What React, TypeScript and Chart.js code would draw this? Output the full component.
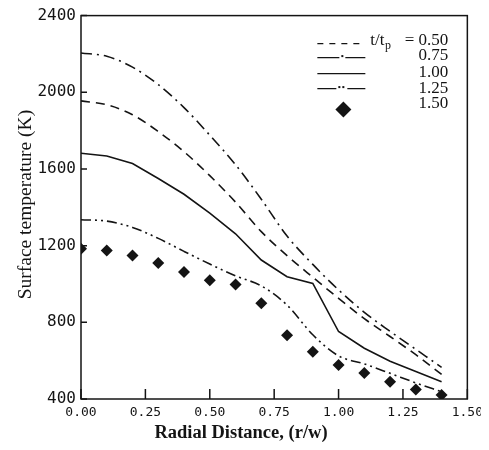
import React, { useEffect, useRef } from "react";
import { Chart, registerables } from "chart.js";

Chart.register(...registerables);

// Radial distance (r/w)
const R = [0, 0.1, 0.2, 0.3, 0.4, 0.5, 0.6, 0.7, 0.8, 0.9, 1.0, 1.1, 1.2, 1.3, 1.4];
// Surface temperature (K) for t/tp values
const T050 = [1955, 1935, 1883, 1795, 1690, 1565, 1427, 1273, 1148, 1035, 925, 819, 726, 631, 528];
const T075 = [2205, 2188, 2131, 2040, 1920, 1776, 1622, 1442, 1250, 1102, 969, 852, 753, 659, 565];
const T100 = [1682, 1668, 1628, 1550, 1468, 1370, 1262, 1125, 1038, 1003, 752, 665, 597, 543, 490];
const T125 = [1335, 1328, 1295, 1238, 1170, 1104, 1042, 990, 890, 735, 625, 583, 534, 484, 438];
const T150 = [1184, 1174, 1148, 1110, 1063, 1020, 997, 900, 733, 647, 577, 535, 490, 450, 421];

const LEGEND_VALUES = ["0.50", "0.75", "1.00", "1.25", "1.50"];
const X_TICKS = [0, 0.25, 0.5, 0.75, 1.0, 1.25, 1.5];
const Y_TICKS = [400, 800, 1200, 1600, 2000, 2400];
const X_TITLE = "Radial Distance, (r/w)";
const Y_TITLE = "Surface temperature (K)";

const INK = "#141414";
const DASH = [9, 6];
const DASH_DOT = [11, 5, 2, 5];
const DASH_DOT_DOT = [10, 4, 2, 4, 2, 4];

const pts = (vals: number[]) => R.map((x, i) => ({ x, y: vals[i] }));

const decorPlugin = {
  id: "decor",
  afterDraw(chart: any) {
    const { ctx, chartArea, scales } = chart;
    const { left, right, top, bottom } = chartArea;
    const xs = scales.x;
    const ys = scales.y;
    ctx.save();
    ctx.strokeStyle = INK;
    ctx.fillStyle = INK;
    ctx.lineWidth = 1.5;
    ctx.setLineDash([]);
    // frame
    ctx.strokeRect(left, top, right - left, bottom - top);
    // inward ticks
    ctx.beginPath();
    Y_TICKS.forEach((v) => {
      const py = ys.getPixelForValue(v);
      ctx.moveTo(left, py);
      ctx.lineTo(left + 6, py);
    });
    X_TICKS.forEach((v) => {
      const px = xs.getPixelForValue(v);
      ctx.moveTo(px, bottom);
      ctx.lineTo(px, bottom - 10);
    });
    ctx.stroke();

    // axis titles
    ctx.font = "bold 18.5px 'Liberation Serif', serif";
    ctx.textAlign = "center";
    ctx.textBaseline = "middle";
    ctx.fillText(X_TITLE, left + 160, bottom + 34);
    ctx.save();
    ctx.translate(left - 55, top + 189);
    ctx.rotate(-Math.PI / 2);
    ctx.font = "19.5px 'Liberation Serif', serif";
    ctx.fillText(Y_TITLE, 0, 0);
    ctx.restore();

    // legend
    const lx0 = right - 150;
    const lx1 = right - 102;
    const textRight = right - 19;
    const rowsLine = [top + 28, top + 42, top + 58, top + 73];
    const rowsText = [top + 25, top + 40, top + 57, top + 73, top + 88];
    ctx.lineWidth = 1.3;
    // 0.50 dashed
    ctx.setLineDash([6, 6]);
    ctx.beginPath();
    ctx.moveTo(lx0, rowsLine[0]);
    ctx.lineTo(lx1 - 4, rowsLine[0]);
    ctx.stroke();
    // 0.75 dash-dot
    ctx.setLineDash([]);
    ctx.beginPath();
    ctx.moveTo(lx0, rowsLine[1]);
    ctx.lineTo(lx0 + 22, rowsLine[1]);
    ctx.moveTo(lx0 + 28, rowsLine[1]);
    ctx.lineTo(lx1, rowsLine[1]);
    ctx.stroke();
    ctx.fillRect(lx0 + 24, rowsLine[1] - 2.5, 2, 2);
    // 1.00 solid
    ctx.beginPath();
    ctx.moveTo(lx0, rowsLine[2]);
    ctx.lineTo(lx1, rowsLine[2]);
    ctx.stroke();
    // 1.25 dash-dot-dot
    ctx.beginPath();
    ctx.moveTo(lx0, rowsLine[3]);
    ctx.lineTo(lx0 + 19, rowsLine[3]);
    ctx.moveTo(lx0 + 30, rowsLine[3]);
    ctx.lineTo(lx1, rowsLine[3]);
    ctx.stroke();
    ctx.fillRect(lx0 + 21, rowsLine[3] - 2.5, 2, 2);
    ctx.fillRect(lx0 + 25, rowsLine[3] - 2.5, 2, 2);
    // 1.50 diamond
    const dcx = lx0 + 26;
    const dcy = rowsText[4] + 6;
    ctx.beginPath();
    ctx.moveTo(dcx, dcy - 8);
    ctx.lineTo(dcx + 8, dcy);
    ctx.lineTo(dcx, dcy + 8);
    ctx.lineTo(dcx - 8, dcy);
    ctx.closePath();
    ctx.fill();

    // legend text
    ctx.font = "17px 'Liberation Serif', serif";
    ctx.textAlign = "right";
    ctx.textBaseline = "middle";
    LEGEND_VALUES.forEach((v, i) => {
      const label = i === 0 ? "= " + v : v;
      ctx.fillText(label, textRight, rowsText[i]);
    });
    // t/tp
    ctx.textAlign = "left";
    const tx = right - 97;
    ctx.fillText("t/t", tx, rowsText[0]);
    const w = ctx.measureText("t/t").width;
    ctx.font = "12px 'Liberation Serif', serif";
    ctx.fillText("p", tx + w + 0.5, rowsText[0] + 5);
    ctx.restore();
  },
};

export default function App() {
  const ref = useRef<HTMLCanvasElement | null>(null);

  useEffect(() => {
    if (!ref.current) return;
    const lineBase = {
      borderColor: INK,
      backgroundColor: INK,
      borderWidth: 1.6,
      pointRadius: 0,
      fill: false,
      cubicInterpolationMode: "monotone" as const,
    };
    const chart = new Chart(ref.current, {
      type: "line",
      data: {
        datasets: [
          { ...lineBase, label: "t/tp = 0.50", data: pts(T050), borderDash: DASH },
          { ...lineBase, label: "0.75", data: pts(T075), borderDash: DASH_DOT },
          {
            ...lineBase,
            label: "1.00",
            data: pts(T100),
            cubicInterpolationMode: "default" as const,
            tension: 0,
          },
          { ...lineBase, label: "1.25", data: pts(T125), borderDash: DASH_DOT_DOT },
          {
            label: "1.50",
            data: pts(T150),
            showLine: false,
            pointStyle: "rectRot",
            pointRadius: 6,
            pointBackgroundColor: INK,
            pointBorderColor: INK,
            pointBorderWidth: 0,
            borderColor: INK,
            backgroundColor: INK,
          },
        ],
      },
      options: {
        animation: false,
        responsive: false,
        devicePixelRatio: 1,
        layout: { padding: { top: 1, right: 6, left: 0, bottom: 0 } },
        plugins: {
          legend: { display: false },
          tooltip: { enabled: false },
          title: { display: false },
        },
        scales: {
          x: {
            type: "linear",
            min: 0,
            max: 1.5,
            grid: { display: false, drawTicks: false },
            border: { display: false },
            afterFit: (s: any) => {
              s.height = 44;
            },
            afterBuildTicks: (s: any) => {
              s.ticks = X_TICKS.map((v) => ({ value: v }));
            },
            ticks: {
              padding: 6,
              color: INK,
              maxRotation: 0,
              autoSkip: false,
              font: { family: "'DejaVu Sans Mono', monospace", size: 13 },
              callback: (v: any) => Number(v).toFixed(2),
            },
          },
          y: {
            type: "linear",
            min: 400,
            max: 2400,
            grid: { display: false, drawTicks: false },
            border: { display: false },
            afterFit: (s: any) => {
              s.width = 73;
            },
            afterBuildTicks: (s: any) => {
              s.ticks = Y_TICKS.map((v) => ({ value: v }));
            },
            ticks: {
              padding: 5,
              color: INK,
              autoSkip: false,
              font: { family: "'DejaVu Sans Mono', monospace", size: 16 },
              callback: (v: any) => String(v),
            },
          },
        },
      },
      plugins: [decorPlugin],
    });
    return () => chart.destroy();
  }, []);

  return (
    <div style={{ position: "relative", width: 473, height: 434 }}>
      <canvas
        ref={ref}
        width={481}
        height={442}
        style={{ display: "block", position: "absolute", left: 0, top: -7 }}
      />
    </div>
  );
}
